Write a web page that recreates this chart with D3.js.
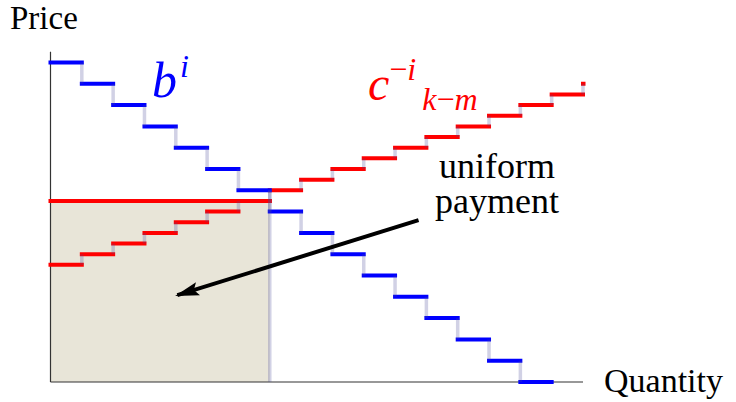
<!DOCTYPE html>
<html>
<head>
<meta charset="utf-8">
<script src="https://cdn.jsdelivr.net/npm/d3@7"></script>
</head>
<body style="margin:0">
<svg id="auction" width="736" height="402"></svg>
<script>
// Stepwise bid curve b^i (one level per unit of quantity, descending)
const bidLevels = [30, 28, 26, 24, 22, 20, 18, 16, 14, 12, 10, 8, 6, 4, 2, 0];
// Stepwise opposing supply curve c^{-i}_{k-m} (ascending)
const supplyLevels = [11, 12, 13, 14, 15, 16, 17, 18, 19, 20, 21, 22, 23, 24, 25, 26, 27, 28];
// Clearing point: quantity and uniform price
const clearQuantity = 7;
const clearPrice = 17;
// Annotation arrow, in data units: [quantity, price]
const arrowFrom = [11.75, 15.2];
const arrowTo = [4.05, 8.15];
const quantityDomain = [0, 17];
const priceDomain = [0, 31];

const serifFamily = '"Liberation Serif", "Times New Roman", Tinos, serif';

const svg = d3.select("#auction");
const x = d3.scaleLinear().domain(quantityDomain).range([50.5, 583]);
const y = d3.scaleLinear().domain(priceDomain).range([382, 382 - 31 * 10.65]);

const riserColor = "rgba(70,70,150,0.25)";
const stepWidth = 4;

const defs = svg.append("defs");
defs.append("clipPath").attr("id", "plotClip")
  .append("rect")
  .attr("x", 0).attr("y", 0)
  .attr("width", x(quantityDomain[1]) + 2.5).attr("height", 402);

// Uniform payment area
svg.append("rect")
  .attr("x", x(0)).attr("y", y(clearPrice))
  .attr("width", x(clearQuantity) - x(0))
  .attr("height", y(0) - y(clearPrice))
  .attr("fill", "#e8e5d8");

// Axes (no ticks)
svg.append("line")
  .attr("x1", x(0)).attr("x2", x(0))
  .attr("y1", y(0)).attr("y2", y(priceDomain[1]))
  .attr("stroke", "#333").attr("stroke-width", 1.2);
svg.append("line")
  .attr("x1", x(0)).attr("x2", x(quantityDomain[1]))
  .attr("y1", y(0)).attr("y2", y(0))
  .attr("stroke", "#333").attr("stroke-width", 1.2);

const plot = svg.append("g").attr("clip-path", "url(#plotClip)");

// Uniform price line across the paid area
plot.append("line")
  .attr("x1", x(0)).attr("x2", x(clearQuantity))
  .attr("y1", y(clearPrice)).attr("y2", y(clearPrice))
  .attr("stroke", "#ff0000").attr("stroke-width", stepWidth)
  .attr("stroke-linecap", "square");

function drawSteps(levels, color) {
  plot.append("g").selectAll("line")
    .data(levels)
    .join("line")
    .attr("x1", (d, i) => x(i))
    .attr("x2", (d, i) => x(i + 1))
    .attr("y1", d => y(d))
    .attr("y2", d => y(d))
    .attr("stroke", color)
    .attr("stroke-width", stepWidth)
    .attr("stroke-linecap", "square");
}

function drawRisers(levels) {
  plot.append("g").selectAll("line")
    .data(d3.pairs(levels))
    .join("line")
    .attr("x1", (d, i) => x(i + 1))
    .attr("x2", (d, i) => x(i + 1))
    .attr("y1", d => y(d[0]))
    .attr("y2", d => y(d[1]))
    .attr("stroke", riserColor)
    .attr("stroke-width", 3.5);
}

drawSteps(supplyLevels, "#ff0000");
drawSteps(bidLevels, "#0000ff");
drawRisers(supplyLevels);
drawRisers(bidLevels);

// Drop line at the clearing quantity
plot.append("line")
  .attr("x1", x(clearQuantity)).attr("x2", x(clearQuantity))
  .attr("y1", y(bidLevels[clearQuantity - 1] - 1)).attr("y2", y(0))
  .attr("stroke", riserColor).attr("stroke-width", 3.5);

// Arrow pointing into the payment area
defs.append("marker")
  .attr("id", "head")
  .attr("viewBox", "0 0 10 10")
  .attr("refX", 9).attr("refY", 5)
  .attr("markerUnits", "userSpaceOnUse")
  .attr("markerWidth", 24).attr("markerHeight", 24)
  .attr("orient", "auto")
  .append("path")
  .attr("d", "M0,2.2 L10,5 L0,7.8 L1.8,5 Z")
  .attr("fill", "#000");

svg.append("line")
  .attr("x1", x(arrowFrom[0])).attr("y1", y(arrowFrom[1]))
  .attr("x2", x(arrowTo[0])).attr("y2", y(arrowTo[1]))
  .attr("stroke", "#000").attr("stroke-width", 4)
  .attr("marker-end", "url(#head)");

// Text items: [content, x, y, size, anchor]
const plainLabels = [
  ["Price", 10, 29, 33, "start"],
  ["Quantity", 604, 392, 34, "start"],
  ["uniform", 497, 178, 36, "middle"],
  ["payment", 497, 213, 36, "middle"]
];

function serifText(sel) {
  return sel
    .attr("font-family", "Liberation Serif")
    .style("font-family", serifFamily, "important");
}

svg.selectAll("text.plain")
  .data(plainLabels)
  .join("text")
  .attr("class", "plain")
  .attr("x", d => d[1])
  .attr("y", d => d[2])
  .attr("font-size", d => d[3])
  .attr("text-anchor", d => d[4])
  .attr("fill", "#000")
  .call(serifText)
  .text(d => d[0]);

// Curve labels
const bLabel = svg.append("text").attr("x", 152).attr("y", 97)
  .attr("font-size", 50).attr("fill", "#0000ff")
  .call(serifText).style("font-style", "italic", "important");
bLabel.append("tspan").text("b");
bLabel.append("tspan").attr("font-size", 32).attr("dx", 3).attr("dy", -20).text("i");

const cLabel = svg.append("text").attr("x", 368).attr("y", 100)
  .attr("font-size", 48).attr("fill", "#ff0000")
  .call(serifText).style("font-style", "italic", "important");
cLabel.append("tspan").text("c");
cLabel.append("tspan").attr("font-size", 32).attr("dy", -20).style("font-style", "normal", "important").text("\u2212");
cLabel.append("tspan").attr("font-size", 32).text("i");
cLabel.append("tspan").attr("font-size", 32).attr("dx", 6).attr("dy", 30).text("k");
cLabel.append("tspan").attr("font-size", 32).style("font-style", "normal", "important").text("\u2212");
cLabel.append("tspan").attr("font-size", 32).text("m");
</script>
</body>
</html>
